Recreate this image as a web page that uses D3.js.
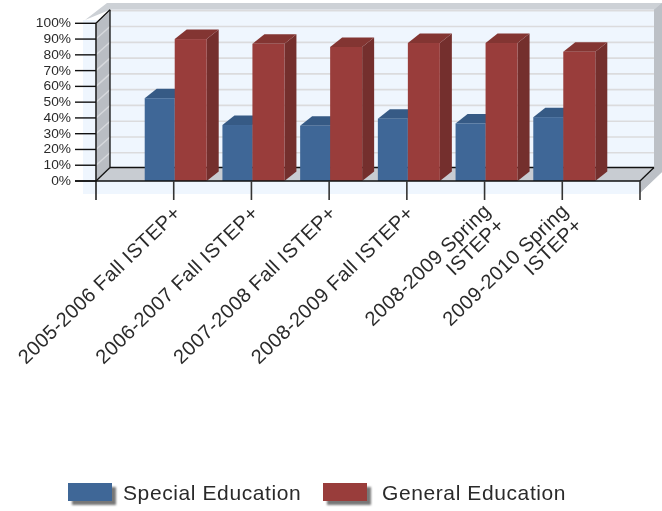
<!DOCTYPE html>
<html>

<head>
    <meta charset='utf-8'>
    <style>
        html, body { margin: 0; padding: 0; background: #fff; }
        svg { display: block; filter: blur(0.45px); }
        text { font-family: 'Liberation Sans', Arial, sans-serif; fill: #2a2a2a; }
    </style>
</head>

<body>
    <svg width="662" height="511"></svg>
    <script src="https://d3js.org/d3.v7.min.js"></script>
    <script>
        // Values
        var categories = [
            ["2005-2006 Fall ISTEP+"],
            ["2006-2007 Fall ISTEP+"],
            ["2007-2008 Fall ISTEP+"],
            ["2008-2009 Fall ISTEP+"],
            ["2008-2009 Spring", "ISTEP+"],
            ["2009-2010 Spring", "ISTEP+"]
        ];
        var specialEducation = [52.5, 35.5, 35, 39.5, 36.5, 40.5];
        var generalEducation = [90, 87, 85, 87.5, 87.5, 82];
        var seriesNames = ["Special Education", "General Education"];
        var yTicks = [0, 10, 20, 30, 40, 50, 60, 70, 80, 90, 100];

        var svg = d3.select('svg');

        // 3D offset of the back wall and of the bars
        var wallDx = 14, wallDy = -13.5, barDx = 12, barDy = -9.5;

        // index -1 and 6 are the two end ticks of the axis
        var x = d3.scaleLinear().domain([-1, 6]).range([96, 640]);
        var y = d3.scaleLinear().domain([0, 100]).range([181, 23.3]);

        var blue = { front: '#3f6797', top: '#365a85', side: '#2f5078' };
        var red = { front: '#993d3b', top: '#833532', side: '#742f2d' };

        function poly(pts, fill) {
            return svg.append('polygon')
                .attr('points', pts.map(function(p) { return p.join(','); }).join(' '))
                .attr('fill', fill);
        }

        function line(x1, y1, x2, y2, color, width) {
            return svg.append('line')
                .attr('x1', x1).attr('y1', y1).attr('x2', x2).attr('y2', y2)
                .attr('stroke', color).attr('stroke-width', width);
        }

        var x0 = x(-1), x1 = x(6), y0 = y(0), y100 = y(100);

        // pale outer plot area
        svg.append('rect')
            .attr('x', 83).attr('y', 20).attr('width', 557).attr('height', 174)
            .attr('fill', '#eff6fe');

        // outer grey frame on top and right
        poly([[85, 20], [107, 3], [662, 3], [662, 172], [640, 193], [640, 181],
            [x1 + wallDx, y0 + wallDy], [x1 + wallDx, y100 + wallDy], [x0 + wallDx, y100 + wallDy]], '#cdd1d6');
        poly([[x1 + wallDx, y100 + wallDy], [662, 3], [662, 172], [640, 193], [x1, y0], [x1 + wallDx, y0 + wallDy]], '#bcc0c6');

        // back wall
        svg.append('rect')
            .attr('x', x0 + wallDx).attr('y', y100 + wallDy)
            .attr('width', x1 - x0).attr('height', y0 - y100)
            .attr('fill', '#eff6fe');

        // left wall and floor
        poly([[x0, y100], [x0 + wallDx, y100 + wallDy], [x0 + wallDx, y0 + wallDy], [x0, y0]], '#b9bdc3');
        poly([[x0, y0], [x0 + wallDx, y0 + wallDy], [x1 + wallDx, y0 + wallDy], [x1, y0]], '#c8ccd2');

        // grid lines along left and back walls
        yTicks.slice(1).forEach(function(t) {
            line(x0 + wallDx, y(t) + wallDy + 1, x1 + wallDx, y(t) + wallDy + 1, '#dbdbdd', 1.6);
            line(x0, y(t), x0 + wallDx, y(t) + wallDy + 1, '#d6d8dc', 1.4);
        });

        // frame lines behind the bars
        line(x0 + wallDx, y100 + wallDy, x0 + wallDx, y0 + wallDy, '#111', 1.3);
        line(x0, y100, x0 + wallDx, y100 + wallDy, '#111', 1.3);
        line(x0, y0, x0 + wallDx, y0 + wallDy, '#111', 1.3);
        line(x0 + wallDx, y0 + wallDy, x1 + wallDx, y0 + wallDy, '#111', 1.3);
        line(x1, y0, x1 + wallDx, y0 + wallDy, '#111', 1.3);

        function drawBar(left, right, value, c) {
            var t = y(value);
            poly([[right, t], [right + barDx, t + barDy], [right + barDx, y0 + barDy], [right, y0]], c.side);
            poly([[left, t], [left + barDx, t + barDy], [right + barDx, t + barDy], [right, t]], c.top);
            svg.append('rect')
                .attr('x', left).attr('y', t)
                .attr('width', right - left).attr('height', y0 - t)
                .attr('fill', c.front);
        }

        // bars sit either side of the tick, blue first
        categories.forEach(function(c, i) {
            var mid = x(i) + 1;
            drawBar(mid - 30, mid, specialEducation[i], blue);
            drawBar(mid, mid + 32, generalEducation[i], red);
        });

        // front axes
        line(x0, y100, x0, 200, '#222', 1.6);
        line(x0 - 21, y0, x1, y0, '#111', 1.4);
        d3.range(0, 7).forEach(function(i) {
            line(x(i), y0, x(i), 200, '#333', 1.6);
        });

        // y axis ticks and labels
        yTicks.forEach(function(t) {
            line(x0 - 21, y(t), x0, y(t), '#111', 1.4);
            svg.append('text')
                .attr('transform', 'translate(71,' + (y(t) + 4) + ') scale(1.1,1)')
                .attr('text-anchor', 'end')
                .attr('font-size', 12.5)
                .text(t + '%');
        });

        // slanted category labels, their ends hang under the ticks
        categories.forEach(function(c, i) {
            var two = c.length > 1;
            var g = svg.append('g')
                .attr('transform', 'translate(' + (x(i) + (two ? 10 : 4)) + ',' + (two ? 215 : 210) + ') rotate(-44)');
            c.forEach(function(part, j) {
                g.append('text')
                    .attr('x', 0)
                    .attr('y', (j - (c.length - 1) / 2) * 20 + 6)
                    .attr('text-anchor', 'end')
                    .attr('font-size', 20)
                    .attr('letter-spacing', 0.4)
                    .text(part);
            });
        });

        // legend
        var legendX = [68, 323];
        var legendTextX = [123, 382];
        var legendColors = [blue.front, red.front];
        seriesNames.forEach(function(name, i) {
            svg.append('rect')
                .attr('x', legendX[i] + 4).attr('y', 487)
                .attr('width', 44).attr('height', 18)
                .attr('fill', '#777')
                .style('filter', 'blur(1px)');
            svg.append('rect')
                .attr('x', legendX[i]).attr('y', 483)
                .attr('width', 44).attr('height', 18)
                .attr('fill', legendColors[i]);
            svg.append('text')
                .attr('x', legendTextX[i])
                .attr('y', 500)
                .attr('font-size', 21)
                .attr('letter-spacing', 0.6)
                .text(name);
        });
    </script>
</body>

</html>
